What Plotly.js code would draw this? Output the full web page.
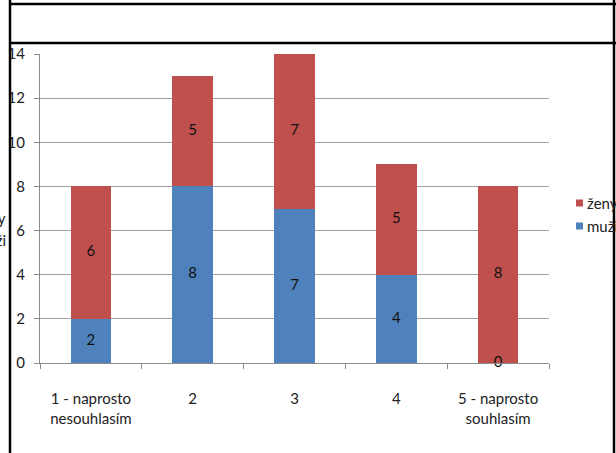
<!DOCTYPE html>
<html>
<head>
<meta charset="utf-8">
<script src="https://cdn.plot.ly/plotly-3.0.1.min.js"></script>
<style>
  html, body { margin: 0; padding: 0; background: #fff; }
  #chart { width: 616px; height: 453px; }
</style>
</head>
<body>
<div id="chart"></div>
<script>
// Answers split by gender, stacked per agreement level
const categories = ["1 - naprosto<br>nesouhlasím", "2", "3", "4", "5 - naprosto<br>souhlasím"];
const muzi = [2, 8, 7, 4, 0];
const zeny = [6, 5, 7, 5, 8];
const seriesNames = ["ženy", "muži"];
const seriesColors = ["#C0504D", "#4F81BD"];
const yTicks = [0, 2, 4, 6, 8, 10, 12, 14];

// Plot-area geometry in page pixels, used to place frame lines and legend
const W = 616, H = 453;
const L = 40, R = 549, T = 54, B = 363;
const px = x => (x - L) / (R - L);
const py = y => (B - y) / (B - T);

const FONT = "Lato, 'Open Sans', sans-serif";
const FS = 15;

const traces = [
  {
    type: "bar", x: categories, y: muzi, name: seriesNames[1],
    marker: { color: seriesColors[1] }, showlegend: false, hoverinfo: "y"
  },
  {
    type: "bar", x: categories, y: zeny, name: seriesNames[0],
    marker: { color: seriesColors[0] }, showlegend: false, hoverinfo: "y"
  },
  // value labels centred in each stacked segment
  {
    type: "scatter", mode: "text", x: categories,
    y: muzi.map(v => v / 2), text: muzi.map(String),
    textfont: { family: FONT, size: FS, color: "#111" },
    cliponaxis: false, showlegend: false, hoverinfo: "skip"
  },
  {
    type: "scatter", mode: "text", x: categories,
    y: zeny.map((v, i) => muzi[i] + v / 2), text: zeny.map(String),
    textfont: { family: FONT, size: FS, color: "#111" },
    cliponaxis: false, showlegend: false, hoverinfo: "skip"
  }
];

const black = { color: "#000", width: 2.5 };
const shapes = [
  { type: "line", xref: "paper", yref: "paper", x0: px(10), x1: px(W), y0: py(4), y1: py(4), line: black },
  { type: "line", xref: "paper", yref: "paper", x0: px(10), x1: px(W), y0: py(43), y1: py(43), line: black },
  { type: "line", xref: "paper", yref: "paper", x0: px(10), x1: px(10), y0: py(0), y1: py(H), line: black },
  { type: "line", xref: "paper", yref: "paper", x0: px(614), x1: px(614), y0: py(0), y1: py(H), line: black }
];

// legend keys at the right edge
const legendY = [203, 226];
const annotations = [];
seriesNames.forEach((name, i) => {
  shapes.push({
    type: "rect", xref: "paper", yref: "paper", layer: "below",
    x0: px(576), x1: px(583), y0: py(legendY[i] + 3.5), y1: py(legendY[i] - 3.5),
    fillcolor: seriesColors[i], line: { width: 0 }
  });
  annotations.push({
    xref: "paper", yref: "paper", x: px(585), y: py(legendY[i]),
    xanchor: "left", yanchor: "middle", showarrow: false, text: name,
    font: { family: FONT, size: FS, color: "#222" }
  });
});
// the neighbouring legend, only its tail visible at the left edge
[218, 240].forEach((yy, i) => {
  annotations.push({
    xref: "paper", yref: "paper", x: px(8), y: py(yy),
    xanchor: "right", yanchor: "middle", showarrow: false, text: seriesNames[i],
    font: { family: FONT, size: FS, color: "#222" }
  });
});

const layout = {
  width: W, height: H,
  margin: { l: L, r: W - R, t: T, b: H - B, pad: 0 },
  paper_bgcolor: "#fff", plot_bgcolor: "#fff",
  barmode: "stack", bargap: 0.6,
  showlegend: false,
  font: { family: FONT, size: FS, color: "#222" },
  xaxis: {
    type: "category", range: [-0.5, 4.5], fixedrange: true,
    showline: true, linecolor: "#8c8c8c", linewidth: 1,
    ticks: "outside", tickson: "boundaries", ticklen: 5, tickcolor: "#8c8c8c",
    showgrid: false, zeroline: false,
    tickfont: { family: FONT, size: FS, color: "#222" },
    ticklabelstandoff: 22
  },
  yaxis: {
    range: [0, 14], tickvals: yTicks, fixedrange: true,
    showline: true, linecolor: "#8c8c8c", linewidth: 1,
    ticks: "outside", ticklen: 5, tickcolor: "#8c8c8c",
    showgrid: true, gridcolor: "#a0a0a0", gridwidth: 1, zeroline: false,
    tickfont: { family: FONT, size: FS, color: "#222" },
    ticklabelstandoff: 6
  },
  shapes: shapes,
  annotations: annotations
};

Plotly.newPlot("chart", traces, layout, { staticPlot: true, displayModeBar: false });
</script>
</body>
</html>
